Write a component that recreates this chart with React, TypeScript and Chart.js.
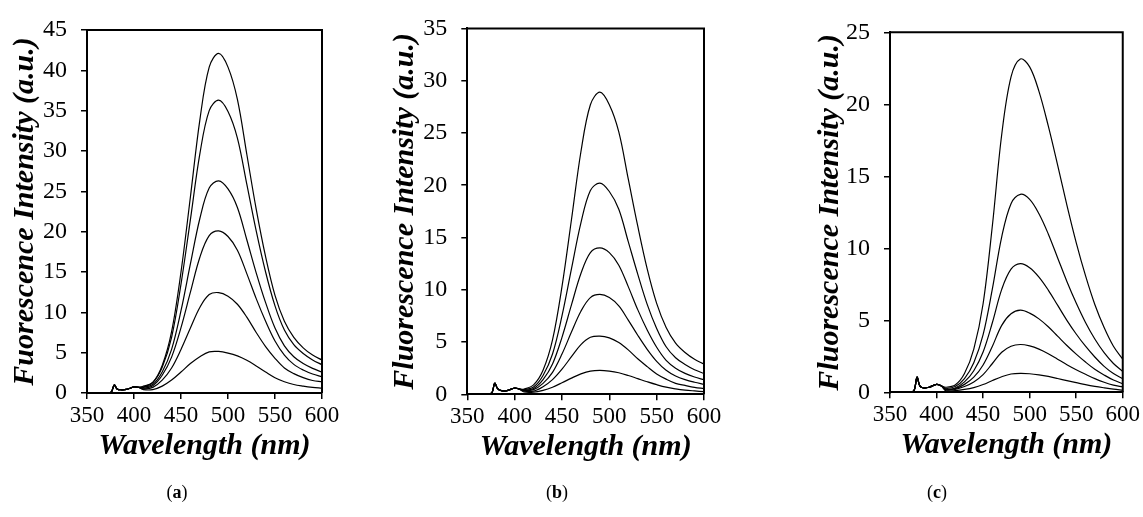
import React, { useEffect, useRef } from "react";
import { Chart, registerables } from "chart.js";

Chart.register(...registerables);

// Emission wavelengths (nm) shared by every spectrum
const WAVELENGTH = [350, 365, 372, 376, 379, 382, 386, 392, 400, 405, 410, 420, 430, 440, 450, 460, 470, 480, 490, 500, 510, 520, 530, 540, 550, 560, 570, 580, 590, 600];

// Panel (a) spectra, strongest to weakest
const A1 = [0.05, 0.05, 0.05, 0.15, 1.0, 0.5, 0.4, 0.45, 0.75, 0.7, 0.85, 1.3, 3.4, 7.6, 15.0, 24.3, 33.8, 40.4, 42.1, 40.4, 36.4, 29.6, 22.8, 16.9, 12.1, 8.9, 6.9, 5.6, 4.7, 4.1];
const A2 = [0.05, 0.05, 0.05, 0.15, 1.0, 0.5, 0.4, 0.45, 0.75, 0.7, 0.75, 1.3, 3.2, 6.9, 13.5, 21.5, 29.6, 35.0, 36.3, 34.9, 31.6, 25.9, 20.1, 15.0, 10.8, 7.8, 6.0, 4.9, 4.1, 3.5];
const A3 = [0.05, 0.05, 0.05, 0.15, 1.0, 0.5, 0.4, 0.45, 0.75, 0.7, 0.7, 1.05, 2.6, 5.4, 10.2, 16.0, 21.6, 25.4, 26.3, 25.3, 23.0, 19.0, 14.9, 11.2, 8.05, 5.85, 4.5, 3.65, 3.05, 2.6];
const A4 = [0.05, 0.05, 0.05, 0.15, 1.0, 0.5, 0.4, 0.45, 0.75, 0.7, 0.6, 0.9, 2.2, 4.45, 8.1, 12.5, 16.8, 19.5, 20.1, 19.4, 17.7, 14.8, 11.7, 8.9, 6.45, 4.7, 3.55, 2.85, 2.35, 2.0];
const A5 = [0.05, 0.05, 0.05, 0.15, 1.0, 0.5, 0.4, 0.45, 0.75, 0.7, 0.5, 0.7, 1.6, 3.1, 5.4, 8.05, 10.6, 12.2, 12.45, 12.0, 11.0, 9.4, 7.5, 5.75, 4.3, 3.1, 2.4, 1.9, 1.55, 1.4];
const A6 = [0.05, 0.05, 0.05, 0.15, 1.0, 0.5, 0.4, 0.45, 0.75, 0.7, 0.42, 0.42, 0.85, 1.6, 2.6, 3.65, 4.5, 5.1, 5.15, 4.95, 4.6, 4.05, 3.35, 2.6, 1.9, 1.4, 1.05, 0.85, 0.7, 0.6];

// Panel (b) spectra
const B1 = [0.02, 0.02, 0.02, 0.15, 1.05, 0.55, 0.35, 0.35, 0.6, 0.5, 0.5, 0.9, 2.3, 5.2, 10.3, 16.7, 23.2, 27.7, 28.9, 27.7, 25.1, 20.6, 16.1, 12.0, 8.7, 6.4, 4.9, 4.0, 3.35, 2.9];
const B2 = [0.02, 0.02, 0.02, 0.15, 1.05, 0.55, 0.35, 0.35, 0.6, 0.5, 0.45, 0.7, 1.8, 3.85, 7.5, 12.0, 16.4, 19.5, 20.2, 19.4, 17.7, 14.6, 11.5, 8.6, 6.3, 4.55, 3.5, 2.85, 2.35, 2.0];
const B3 = [0.02, 0.02, 0.02, 0.15, 1.05, 0.55, 0.35, 0.35, 0.6, 0.5, 0.4, 0.55, 1.4, 2.9, 5.45, 8.55, 11.55, 13.55, 14.0, 13.55, 12.35, 10.3, 8.1, 6.15, 4.5, 3.25, 2.5, 2.0, 1.65, 1.4];
const B4 = [0.02, 0.02, 0.02, 0.15, 1.05, 0.55, 0.35, 0.35, 0.6, 0.5, 0.35, 0.45, 1.05, 2.1, 3.85, 5.95, 7.95, 9.25, 9.55, 9.25, 8.45, 7.1, 5.65, 4.3, 3.15, 2.3, 1.75, 1.4, 1.15, 0.95];
const B5 = [0.02, 0.02, 0.02, 0.15, 1.05, 0.55, 0.35, 0.35, 0.6, 0.5, 0.3, 0.3, 0.72, 1.4, 2.4, 3.6, 4.75, 5.45, 5.57, 5.4, 4.95, 4.25, 3.4, 2.65, 1.95, 1.45, 1.05, 0.85, 0.67, 0.55];
const B6 = [0.02, 0.02, 0.02, 0.15, 1.05, 0.55, 0.35, 0.35, 0.6, 0.5, 0.22, 0.2, 0.38, 0.68, 1.1, 1.55, 1.95, 2.22, 2.29, 2.22, 2.06, 1.8, 1.5, 1.2, 0.92, 0.68, 0.52, 0.4, 0.32, 0.25];

// Panel (c) spectra
const C1 = [0.02, 0.02, 0.02, 0.15, 1.05, 0.45, 0.3, 0.35, 0.55, 0.45, 0.35, 0.5, 1.3, 3.0, 6.15, 11.6, 17.9, 21.9, 23.15, 22.6, 20.9, 18.5, 15.8, 13.0, 10.4, 8.1, 6.1, 4.5, 3.2, 2.3];
const C2 = [0.02, 0.02, 0.02, 0.15, 1.05, 0.45, 0.3, 0.35, 0.55, 0.45, 0.28, 0.4, 0.95, 2.05, 4.0, 7.2, 10.8, 13.1, 13.75, 13.4, 12.4, 11.0, 9.35, 7.7, 6.2, 4.85, 3.7, 2.75, 2.0, 1.45];
const C3 = [0.02, 0.02, 0.02, 0.15, 1.05, 0.45, 0.3, 0.35, 0.55, 0.45, 0.22, 0.3, 0.72, 1.5, 2.8, 4.85, 7.15, 8.55, 8.93, 8.65, 8.0, 7.1, 6.05, 5.0, 4.05, 3.2, 2.45, 1.8, 1.3, 0.95];
const C4 = [0.02, 0.02, 0.02, 0.15, 1.05, 0.45, 0.3, 0.35, 0.55, 0.45, 0.2, 0.25, 0.55, 1.05, 1.9, 3.2, 4.65, 5.45, 5.7, 5.5, 5.1, 4.55, 3.9, 3.25, 2.65, 2.1, 1.6, 1.2, 0.85, 0.6];
const C5 = [0.02, 0.02, 0.02, 0.15, 1.05, 0.45, 0.3, 0.35, 0.55, 0.45, 0.17, 0.2, 0.4, 0.72, 1.23, 2.0, 2.78, 3.2, 3.32, 3.22, 3.0, 2.68, 2.3, 1.92, 1.57, 1.25, 0.95, 0.7, 0.5, 0.37];
const C6 = [0.02, 0.02, 0.02, 0.15, 1.05, 0.45, 0.3, 0.35, 0.55, 0.45, 0.1, 0.12, 0.2, 0.33, 0.54, 0.82, 1.08, 1.27, 1.32, 1.29, 1.21, 1.1, 0.96, 0.81, 0.67, 0.53, 0.41, 0.31, 0.22, 0.15];

const X_TICKS = [350, 400, 450, 500, 550, 600];
const X_TITLE = "Wavelength (nm)";

const SERIF = "'Liberation Serif', 'Times New Roman', serif";
const TITLE_SIZE = 30;
const X_TICK_SIZE = 23;
const Y_TICK_SIZE = 24;

type PanelSpec = {
  label: string;
  canvasLeft: number;
  series: number[][];
  yMax: number;
  yStep: number;
  yTitle: string;
  axisWidth: number;
  titleInset: number;
  padTop: number;
  padRight: number;
  padBottom: number;
  labelX: number;
};

const PANELS: PanelSpec[] = [
  { label: "a", canvasLeft: 0, series: [A1, A2, A3, A4, A5, A6], yMax: 45, yStep: 5, yTitle: "Fuorescence Intensity (a.u.)", axisWidth: 87, titleInset: 10, padTop: 30, padRight: 59, padBottom: 56, labelX: 177 },
  { label: "b", canvasLeft: 381, series: [B1, B2, B3, B4, B5, B6], yMax: 35, yStep: 5, yTitle: "Fluorescence Intensity (a.u.)", axisWidth: 86.3, titleInset: 9, padTop: 28.3, padRight: 58, padBottom: 54.7, labelX: 557 },
  { label: "c", canvasLeft: 762, series: [C1, C2, C3, C4, C5, C6], yMax: 25, yStep: 5, yTitle: "Fluorescence Intensity (a.u.)", axisWidth: 128, titleInset: 53, padTop: 32.3, padRight: 19.7, padBottom: 56.7, labelX: 937 },
];

const CANVAS_W = 381;
const CANVAS_H = 517;
const X_AXIS_HEIGHT = 68;

// Draws the top and right edges of the plot frame
const framePlugin = {
  id: "plotFrame",
  afterDraw(chart: any) {
    const { ctx, chartArea } = chart;
    ctx.save();
    ctx.strokeStyle = "#000";
    ctx.lineWidth = 2;
    ctx.beginPath();
    ctx.moveTo(chartArea.left, chartArea.top);
    ctx.lineTo(chartArea.right, chartArea.top);
    ctx.lineTo(chartArea.right, chartArea.bottom);
    ctx.stroke();
    ctx.restore();
  },
};

function SpectraPanel({ spec }: { spec: PanelSpec }) {
  const ref = useRef<HTMLCanvasElement | null>(null);

  useEffect(() => {
    if (!ref.current) return;
    const datasets = spec.series.map((values) => ({
      data: values.map((y, i) => ({ x: WAVELENGTH[i], y })),
      borderColor: "#000",
      borderWidth: 1.2,
      pointRadius: 0,
      fill: false,
      tension: 0.35,
    }));

    const chart = new Chart(ref.current, {
      type: "line",
      data: { datasets },
      plugins: [framePlugin],
      options: {
        responsive: false,
        animation: false,
        events: [],
        layout: {
          padding: { left: 0, top: spec.padTop, right: spec.padRight, bottom: spec.padBottom },
        },
        plugins: {
          legend: { display: false },
          tooltip: { enabled: false },
        },
        scales: {
          x: {
            type: "linear",
            min: 350,
            max: 600,
            afterBuildTicks: (scale: any) => {
              scale.ticks = X_TICKS.map((v) => ({ value: v }));
            },
            afterFit: (scale: any) => {
              scale.height = X_AXIS_HEIGHT;
            },
            grid: { drawOnChartArea: false, drawTicks: true, tickLength: 6, color: "#000", lineWidth: 1.5 },
            border: { display: true, color: "#000", width: 2 },
            ticks: {
              color: "#000",
              padding: 3,
              maxRotation: 0,
              autoSkip: false,
              font: { family: SERIF, size: X_TICK_SIZE },
            },
            title: {
              display: true,
              text: X_TITLE,
              color: "#000",
              padding: 0,
              font: { family: SERIF, size: TITLE_SIZE, weight: "bold", style: "italic", lineHeight: 1 },
            },
          },
          y: {
            type: "linear",
            min: 0,
            max: spec.yMax,
            afterFit: (scale: any) => {
              scale.width = spec.axisWidth;
            },
            grid: { drawOnChartArea: false, drawTicks: true, tickLength: 6, color: "#000", lineWidth: 1.5 },
            border: { display: true, color: "#000", width: 2 },
            ticks: {
              stepSize: spec.yStep,
              color: "#000",
              padding: 14,
              font: { family: SERIF, size: Y_TICK_SIZE },
            },
            title: {
              display: true,
              text: spec.yTitle,
              color: "#000",
              padding: { top: spec.titleInset, bottom: 0 },
              font: { family: SERIF, size: TITLE_SIZE, weight: "bold", style: "italic", lineHeight: 1 },
            },
          },
        },
      },
    } as any);

    return () => chart.destroy();
  }, [spec]);

  return (
    <canvas
      ref={ref}
      width={CANVAS_W}
      height={CANVAS_H}
      style={{ position: "absolute", left: spec.canvasLeft, top: 0, width: CANVAS_W, height: CANVAS_H }}
    />
  );
}

export default function App() {
  return (
    <div style={{ position: "fixed", left: 0, top: 0, width: 1143, height: 517, background: "#fff", overflow: "hidden" }}>
      {PANELS.map((p) => (
        <SpectraPanel key={p.label} spec={p} />
      ))}
      {PANELS.map((p) => (
        <div
          key={"lbl-" + p.label}
          style={{
            position: "absolute",
            left: p.labelX,
            top: 481,
            transform: "translateX(-50%)",
            fontFamily: SERIF,
            fontSize: 18,
            lineHeight: "22px",
            color: "#000",
            whiteSpace: "nowrap",
          }}
        >
          (<b>{p.label}</b>)
        </div>
      ))}
    </div>
  );
}
